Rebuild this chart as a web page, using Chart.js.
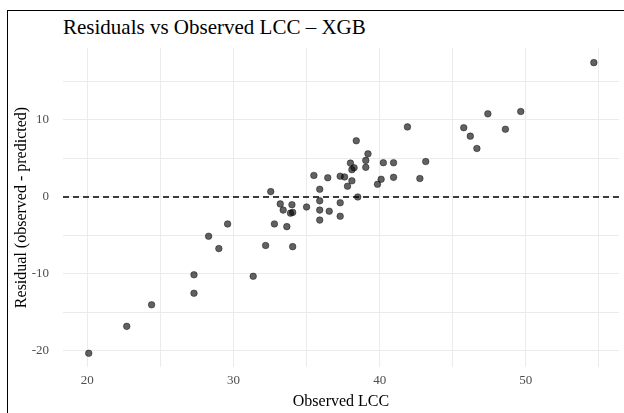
<!DOCTYPE html>
<html lang="en">
<head>
    <meta charset="UTF-8">
    <title>Residuals vs Observed LCC - XGB</title>
    <script src="https://cdn.jsdelivr.net/npm/chart.js"></script>
    <style>
        body {
            margin: 0;
            padding: 0;
            background: #ffffff;
            font-family: "Liberation Serif", "DejaVu Serif", serif;
        }

        .wrap {
            position: relative;
            width: 624px;
            height: 413px;
            overflow: hidden;
        }

        .frame {
            position: absolute;
            left: 7px;
            top: 10px;
            width: 640px;
            height: 440px;
            border: 1.6px solid #000;
        }

        .title {
            position: absolute;
            left: 63px;
            top: 17px;
            font-size: 21px;
            line-height: 21px;
            color: #000;
            white-space: nowrap;
        }

        canvas {
            position: absolute;
            left: 0;
            top: 0;
        }
    </style>
</head>
<body>

<div class="wrap">
    <div class="frame"></div>
    <div class="title">Residuals vs Observed LCC – XGB</div>
    <canvas id="residChart" width="624" height="413"></canvas>
</div>

<script>
    const observed = [
        20.1, 22.7, 24.4, 27.3, 27.3, 28.3, 29.0, 29.6, 31.35, 32.2,
        32.55, 32.8, 33.2, 33.4, 33.65, 33.9, 34.0, 34.05, 34.05, 35.0,
        35.5, 35.9, 35.9, 35.9, 35.9, 36.45, 36.55, 37.3, 37.6, 37.3,
        37.3, 37.8, 38.1, 38.0, 38.1, 38.25, 38.4, 38.5, 39.05, 39.2,
        39.05, 39.85, 40.1, 40.25, 40.95, 40.95, 41.9, 42.75, 43.15, 45.75,
        46.2, 46.65, 47.4, 48.6, 49.65, 54.65
    ];
    const residual = [
        -20.3, -16.8, -14.0, -12.5, -10.1, -5.1, -6.7, -3.5, -10.3, -6.3,
        0.7, -3.5, -0.9, -1.7, -3.85, -2.1, -1.0, -2.0, -6.45, -1.3,
        2.8, 1.0, -0.5, -1.7, -3.0, 2.5, -1.85, 2.7, 2.6, -0.75,
        -2.5, 1.4, 2.1, 4.4, 3.55, 3.8, 7.3, 0.0, 4.75, 5.6,
        3.85, 1.65, 2.3, 4.45, 4.45, 2.55, 9.1, 2.4, 4.6, 9.0,
        7.9, 6.3, 10.8, 8.8, 11.1, 17.45
    ];

    // axis limits (ggplot-style 5% expansion) and tick labels
    const xLimits = [18.34, 56.37];
    const yLimits = [-22.08, 19.35];
    const xTickLabels = [20, 30, 40, 50];
    const yTickLabels = [-20, -10, 0, 10];

    const points = observed.map((x, i) => ({ x: x, y: residual[i] }));
    const zeroLine = xLimits.map(x => ({ x: x, y: 0 }));

    const gridColor = '#ebebeb';
    const tickFont = { family: 'Liberation Serif', size: 13 };
    const titleFont = { family: 'Liberation Serif', size: 16 };

    const ctx = document.getElementById('residChart').getContext('2d');
    new Chart(ctx, {
        type: 'scatter',
        data: {
            datasets: [
                {
                    label: 'Zero',
                    type: 'line',
                    data: zeroLine,
                    borderColor: '#000',
                    borderWidth: 1.4,
                    borderDash: [6, 4],
                    pointRadius: 0,
                    order: 2
                },
                {
                    label: 'Residuals',
                    data: points,
                    backgroundColor: 'rgba(0, 0, 0, 0.62)',
                    borderColor: 'rgba(0, 0, 0, 0.7)',
                    borderWidth: 0.6,
                    pointRadius: 3.3,
                    order: 1
                }
            ]
        },
        options: {
            responsive: false,
            animation: false,
            layout: {
                padding: { top: 48, right: 5, left: 0, bottom: 0 }
            },
            plugins: {
                legend: { display: false },
                tooltip: { enabled: false }
            },
            scales: {
                x: {
                    type: 'linear',
                    min: xLimits[0],
                    max: xLimits[1],
                    border: { display: false },
                    grid: { color: gridColor, lineWidth: 1, drawTicks: false },
                    ticks: {
                        stepSize: 5,
                        includeBounds: false,
                        autoSkip: false,
                        maxRotation: 0,
                        padding: 6,
                        color: '#4d4d4d',
                        font: tickFont,
                        callback: v => xTickLabels.includes(v) ? String(v) : ''
                    },
                    title: {
                        display: true,
                        text: 'Observed LCC',
                        color: '#000',
                        font: titleFont,
                        padding: { top: 0, bottom: 2 }
                    },
                    afterFit: scale => { scale.height = 46; }
                },
                y: {
                    type: 'linear',
                    min: yLimits[0],
                    max: yLimits[1],
                    border: { display: false },
                    grid: { color: gridColor, lineWidth: 1, drawTicks: false },
                    ticks: {
                        stepSize: 5,
                        includeBounds: false,
                        autoSkip: false,
                        padding: 14,
                        color: '#4d4d4d',
                        font: tickFont,
                        callback: v => yTickLabels.includes(v) ? String(v) : ''
                    },
                    title: {
                        display: true,
                        text: 'Residual (observed - predicted)',
                        color: '#000',
                        font: titleFont,
                        padding: { top: 12, bottom: 0 }
                    },
                    afterFit: scale => { scale.width = 63; }
                }
            }
        }
    });
</script>

</body>
</html>
